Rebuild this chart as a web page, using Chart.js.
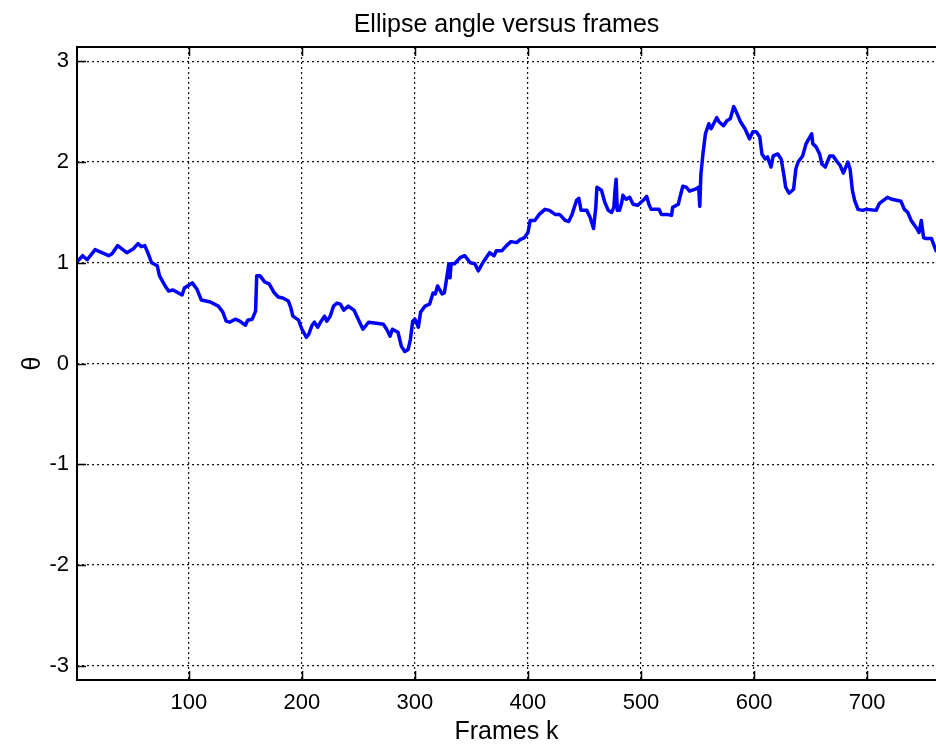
<!DOCTYPE html>
<html>
<head>
<meta charset="utf-8">
<script src="https://cdn.jsdelivr.net/npm/chart.js@4.4.1/dist/chart.umd.min.js"></script>
<style>
  html, body { margin: 0; padding: 0; background: #fff; }
  #wrap { width: 936px; height: 747px; }
</style>
</head>
<body>
<div id="wrap"><canvas id="my-chart" width="936" height="747"></canvas></div>
<script>
// frame index k and ellipse angle theta
const frames = [
  1, 6, 10, 17, 23, 29, 32, 37, 45, 51, 55, 58, 61, 64, 67, 72, 74, 79, 82, 86,
  94, 96, 103, 107, 111, 119, 126, 130, 133, 136, 141, 145, 150, 152, 156, 159, 160, 163, 167, 171,
  175, 179, 183, 188, 190, 192, 197, 200, 204, 206, 209, 211, 214, 217, 220, 222, 225, 228, 231, 234,
  237, 241, 246, 249, 254, 259, 266, 272, 275, 278, 280, 285, 288, 291, 294, 296, 298, 300, 303, 305,
  309, 313, 316, 318, 320, 324, 326, 328, 330, 331, 332, 335, 340, 344, 349, 353, 356, 360, 366, 370,
  372, 377, 381, 385, 390, 393, 397, 400, 402, 406, 410, 415, 419, 424, 428, 433, 436, 439, 443, 445,
  447, 452, 455, 458, 460, 461, 465, 468, 471, 474, 476, 477, 478, 479, 481, 483, 484, 487, 490, 493,
  497, 502, 505, 507, 509, 514, 516, 518, 523, 527, 528, 533, 534, 537, 540, 543, 548, 551, 552, 553,
  555, 557, 560, 562, 567, 569, 573, 576, 579, 582, 585, 588, 592, 596, 599, 602, 605, 607, 610, 612,
  615, 617, 621, 624, 626, 628, 631, 635, 637, 639, 643, 646, 651, 652, 655, 658, 660, 663, 667, 670,
  673, 676, 679, 683, 685, 687, 689, 692, 696, 699, 708, 711, 718, 722, 730, 733, 736, 739, 744, 746,
  748, 750, 752, 757, 760, 761
];
const theta = [
  1.01, 1.07, 1.03, 1.13, 1.10, 1.07, 1.09, 1.17, 1.10, 1.14, 1.19, 1.16, 1.17, 1.09, 1.00, 0.97, 0.87, 0.77, 0.72, 0.73,
  0.68, 0.75, 0.80, 0.74, 0.63, 0.61, 0.57, 0.51, 0.42, 0.41, 0.44, 0.42, 0.38, 0.43, 0.44, 0.52, 0.87, 0.87, 0.81, 0.79,
  0.71, 0.66, 0.65, 0.62, 0.56, 0.47, 0.43, 0.34, 0.26, 0.29, 0.38, 0.41, 0.36, 0.42, 0.47, 0.42, 0.47, 0.57, 0.60, 0.59,
  0.53, 0.57, 0.53, 0.46, 0.34, 0.41, 0.40, 0.39, 0.34, 0.27, 0.34, 0.31, 0.17, 0.12, 0.14, 0.24, 0.42, 0.44, 0.36, 0.51,
  0.57, 0.59, 0.70, 0.69, 0.77, 0.69, 0.70, 0.84, 0.99, 0.85, 0.99, 0.99, 1.05, 1.07, 1.00, 0.99, 0.92, 1.00, 1.10, 1.07,
  1.12, 1.12, 1.17, 1.21, 1.20, 1.23, 1.25, 1.30, 1.42, 1.42, 1.48, 1.53, 1.52, 1.48, 1.48, 1.42, 1.41, 1.48, 1.62, 1.64,
  1.52, 1.52, 1.45, 1.34, 1.55, 1.75, 1.72, 1.60, 1.52, 1.50, 1.55, 1.72, 1.83, 1.52, 1.52, 1.60, 1.67, 1.63, 1.65, 1.58,
  1.57, 1.62, 1.66, 1.58, 1.53, 1.53, 1.53, 1.48, 1.48, 1.47, 1.55, 1.58, 1.63, 1.76, 1.75, 1.71, 1.73, 1.75, 1.56, 1.88,
  2.10, 2.28, 2.38, 2.33, 2.44, 2.40, 2.36, 2.41, 2.43, 2.55, 2.48, 2.40, 2.33, 2.23, 2.30, 2.30, 2.25, 2.08, 2.03, 2.05,
  1.95, 2.06, 2.08, 2.03, 1.90, 1.75, 1.69, 1.73, 1.93, 2.00, 2.06, 2.18, 2.28, 2.18, 2.15, 2.08, 1.98, 1.95, 2.06, 2.06,
  2.01, 1.97, 1.89, 2.00, 1.93, 1.72, 1.62, 1.53, 1.52, 1.53, 1.52, 1.59, 1.65, 1.63, 1.61, 1.53, 1.50, 1.42, 1.34, 1.30,
  1.42, 1.25, 1.24, 1.24, 1.15, 1.12
];
const xTicks = [100, 200, 300, 400, 500, 600, 700];
const yTicks = [-3, -2, -1, 0, 1, 2, 3];

const FONT = "'Liberation Sans', Arial, Helvetica, sans-serif";

// MATLAB style box: thick left/top/bottom edges and inward tick marks
const axesFramePlugin = {
  id: 'axesFrame',
  afterDatasetsDraw(chart) {
    const ctx = chart.ctx;
    const { left, right, top, bottom } = chart.chartArea;
    const xs = chart.scales.x;
    const ys = chart.scales.y;
    const len = 9;
    ctx.save();
    ctx.strokeStyle = 'black';
    ctx.lineWidth = 1.5;
    ctx.beginPath();
    xTicks.forEach(v => {
      const px = Math.round(xs.getPixelForValue(v)) + 0.5;
      ctx.moveTo(px, bottom);
      ctx.lineTo(px, bottom - len);
      ctx.moveTo(px, top);
      ctx.lineTo(px, top + len);
    });
    yTicks.forEach(v => {
      const py = Math.round(ys.getPixelForValue(v)) + 0.5;
      ctx.moveTo(left, py);
      ctx.lineTo(left + len, py);
    });
    ctx.stroke();
    ctx.lineWidth = 2;
    ctx.beginPath();
    ctx.moveTo(right, top);
    ctx.lineTo(left, top);
    ctx.lineTo(left, bottom);
    ctx.lineTo(right, bottom);
    ctx.stroke();
    ctx.restore();
  }
};

document.addEventListener("DOMContentLoaded", () => {
  const chartCanvas = document.getElementById("my-chart");

  new Chart(chartCanvas, {
    type: 'line',
    data: {
      datasets: [{
        data: frames.map((k, i) => ({ x: k, y: theta[i] })),
        borderColor: '#0000ff',
        borderWidth: 3.5,
        pointRadius: 0,
        tension: 0,
        borderJoinStyle: 'round',
        borderCapStyle: 'round',
        fill: false
      }]
    },
    options: {
      responsive: false,
      animation: false,
      layout: { padding: 0 },
      plugins: {
        legend: { display: false },
        tooltip: { enabled: false },
        title: {
          display: true,
          fullSize: false,
          text: 'Ellipse angle versus frames',
          color: 'black',
          font: { family: FONT, size: 25, weight: 'normal', lineHeight: 1.2 },
          padding: { top: 10, bottom: 7 }
        }
      },
      scales: {
        x: {
          type: 'linear',
          min: 1,
          max: 761,
          afterBuildTicks: s => { s.ticks = xTicks.map(v => ({ value: v })); },
          afterFit: s => { s.height = 67; s.paddingLeft = 0; s.paddingRight = 0; },
          grid: { color: '#111', lineWidth: 1.2, drawTicks: false },
          border: { display: false, dash: [2, 3] },
          ticks: {
            color: 'black',
            padding: 10,
            maxRotation: 0,
            font: { family: FONT, size: 22 }
          },
          title: {
            display: true,
            text: 'Frames k',
            color: 'black',
            font: { family: FONT, size: 25, lineHeight: 1.2 },
            padding: { top: 0, bottom: 0 }
          }
        },
        y: {
          min: -Math.PI,
          max: Math.PI,
          afterBuildTicks: s => { s.ticks = yTicks.map(v => ({ value: v })); },
          afterFit: s => { s.width = 77; s.paddingTop = 0; s.paddingBottom = 0; },
          grid: { color: '#111', lineWidth: 1.2, drawTicks: false },
          border: { display: false, dash: [2, 3] },
          ticks: {
            color: 'black',
            padding: 8,
            font: { family: FONT, size: 22 }
          },
          title: {
            display: true,
            text: 'θ',
            color: 'black',
            font: { family: FONT, size: 25, lineHeight: 1.2 },
            padding: { top: 18, bottom: 0 }
          }
        }
      }
    },
    plugins: [axesFramePlugin]
  });
});
</script>
</body>
</html>
